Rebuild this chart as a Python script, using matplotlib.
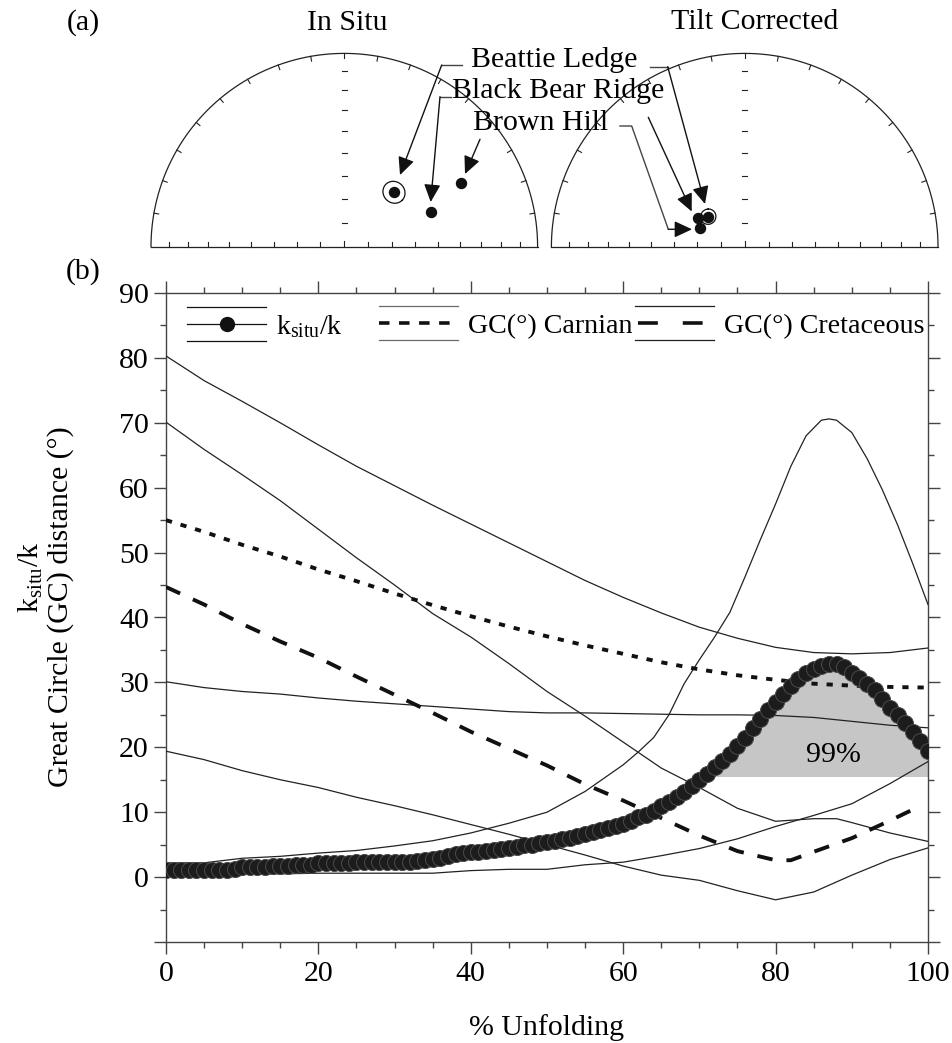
import numpy as np
import matplotlib
matplotlib.use('Agg')
import matplotlib.pyplot as plt
from matplotlib.legend import Legend
from matplotlib.legend_handler import HandlerBase
from matplotlib.lines import Line2D

plt.rcParams['font.family'] = ['Liberation Serif', 'DejaVu Serif']
plt.rcParams['mathtext.fontset'] = 'custom'
plt.rcParams['mathtext.rm'] = 'Liberation Serif'
plt.rcParams['mathtext.it'] = 'Liberation Serif:italic'

# ---------------- data ----------------
sites = ['Beattie Ledge', 'Black Bear Ridge', 'Brown Hill']
insitu_dec = [42.4, 67.9, 61.3]
insitu_inc = [58.7, 50.1, 31.8]
tilt_dec = [309.5, 301.0, 292.4]
tilt_inc = [70.1, 66.8, 69.6]
insitu_a95 = [4.6, None, None]
tilt_a95 = [3.2, None, None]

unfold = list(range(0, 101))
ksitu_k = [1.1, 1.1, 1.1, 1.1, 1.1, 1.1, 1.1, 1.1, 1.1, 1.2,
           1.6, 1.6, 1.6, 1.6, 1.7, 1.7, 1.7, 1.8, 1.8, 1.8,
           2.1, 2.2, 2.2, 2.2, 2.2, 2.3, 2.4, 2.4, 2.4, 2.4,
           2.4, 2.4, 2.4, 2.5, 2.6, 2.8, 3.0, 3.3, 3.5, 3.7,
           3.8, 3.9, 4.0, 4.2, 4.3, 4.5, 4.7, 4.9, 5.0, 5.2,
           5.4, 5.6, 5.8, 6.1, 6.4, 6.6, 6.9, 7.2, 7.5, 7.9,
           8.2, 8.7, 9.2, 9.6, 10.2, 10.9, 11.6, 12.3, 13.1, 14.0,
           14.9, 15.9, 16.9, 17.9, 19.0, 20.2, 21.5, 22.9, 24.3, 25.7,
           27.0, 28.2, 29.4, 30.5, 31.4, 32.1, 32.6, 32.9, 32.8, 32.3,
           31.5, 30.7, 29.8, 28.8, 27.5, 26.0, 24.9, 23.7, 22.3, 20.9, 19.4]
k_threshold_99 = 15.5

ksitu_up_x = [0, 5, 10, 15, 20, 25, 30, 35, 40, 45, 50, 55, 60, 62, 64, 66, 68, 70, 72,
              74, 76, 78, 80, 82, 84, 86, 87, 88, 90, 92, 94, 96, 98, 100]
ksitu_upper = [2.2, 2.2, 2.9, 3.2, 3.7, 4.1, 4.8, 5.6, 6.8, 8.3, 10.0, 13.2, 17.3, 19.3,
               21.5, 25.0, 29.8, 33.5, 37.0, 40.8, 46.3, 52.0, 57.5, 63.3, 68.0, 70.4,
               70.6, 70.4, 68.5, 64.5, 59.7, 54.3, 48.3, 42.0]
pct5 = list(range(0, 101, 5))
ksitu_lower = [0.4, 0.4, 0.5, 0.5, 0.6, 0.6, 0.6, 0.6, 1.0, 1.2, 1.2, 1.9, 2.3, 3.3,
               4.4, 5.9, 7.8, 9.5, 11.3, 14.4, 17.8]

carn_mean = [55.0, 53.2, 51.2, 49.4, 47.4, 45.6, 43.7, 41.9, 40.2, 38.6, 37.1, 35.7,
             34.4, 33.1, 32.0, 31.1, 30.4, 29.8, 29.5, 29.3, 29.2]
carn_upper = [80.3, 76.5, 73.3, 70.0, 66.6, 63.3, 60.3, 57.3, 54.4, 51.5, 48.6, 45.7,
              43.1, 40.7, 38.5, 36.8, 35.4, 34.6, 34.4, 34.6, 35.3]
carn_lower = [30.1, 29.2, 28.6, 28.2, 27.6, 27.1, 26.7, 26.3, 25.9, 25.5, 25.3, 25.3,
              25.2, 25.1, 25.0, 25.0, 24.9, 24.6, 24.0, 23.4, 23.0]

cret_mean_x = [0, 5, 10, 15, 20, 25, 30, 35, 40, 45, 50, 55, 60, 65, 70, 75, 80, 82,
               85, 90, 95, 98]
cret_mean = [44.7, 42.0, 39.0, 36.3, 33.8, 30.9, 28.1, 25.3, 22.4, 19.8, 17.2, 14.3,
             11.8, 9.1, 6.4, 4.0, 2.6, 2.6, 3.9, 6.0, 8.7, 10.4]
cret_up_x = [0, 5, 10, 15, 20, 25, 30, 35, 40, 45, 50, 55, 60, 65, 70, 75, 80, 85, 88,
             90, 95, 100]
cret_upper = [70.1, 65.9, 62.0, 58.0, 53.6, 49.2, 45.0, 40.6, 37.0, 32.9, 28.6, 24.8,
              20.8, 16.8, 13.8, 10.6, 8.6, 9.0, 9.0, 8.4, 6.8, 5.5]
cret_lower = [19.4, 18.1, 16.4, 15.0, 13.8, 12.3, 11.0, 9.6, 8.1, 6.6, 5.0, 3.4, 1.7,
              0.3, -0.5, -2.1, -3.5, -2.3, 0.3, 2.7, 4.5]

legend_labels = [r'$\mathregular{k_{situ}}$/k', 'GC(°) Carnian', 'GC(°) Cretaceous']
xticks = [0, 20, 40, 60, 80, 100]
yticks = [-10, 0, 10, 20, 30, 40, 50, 60, 70, 80, 90]

FS = 21.5
LFS = 20.2
W, H = 953, 1043
fig = plt.figure(figsize=(W / 100, H / 100), dpi=100)

# ---------------- (a) stereonets ----------------
R = 193.3
CX0, CY0 = 344.3, 246.7
TOPH = 262


def P(px, py):
    return ((px - CX0) / R, (CY0 - py) / R)


axa = fig.add_axes([0, 1 - TOPH / H, 1, TOPH / H])
axa.set_xlim(-CX0 / R, (W - CX0) / R)
axa.set_ylim((CY0 - TOPH) / R, CY0 / R)
axa.axis('off')

cx_right = (744.7 - CX0) / R
net_col = '#222222'


def proj(dec, inc):
    p = np.radians(90.0 - np.asarray(inc))
    r = np.sqrt(2) * np.sin(p / 2)
    d = np.radians(np.asarray(dec))
    return r * np.sin(d), r * np.cos(d)


def small_circle(dec, inc, a95, n=120):
    d, i = np.radians(dec), np.radians(inc)
    v = np.array([np.cos(i) * np.sin(d), np.cos(i) * np.cos(d), np.sin(i)])
    tmp = np.array([0, 0, 1.0]) if abs(v[2]) < 0.9 else np.array([1.0, 0, 0])
    u1 = np.cross(v, tmp); u1 /= np.linalg.norm(u1)
    u2 = np.cross(v, u1)
    a = np.radians(a95)
    ph = np.linspace(0, 2 * np.pi, n)
    pts = (np.cos(a) * v[:, None] + np.sin(a) * (np.cos(ph) * u1[:, None] + np.sin(ph) * u2[:, None]))
    incs = np.degrees(np.arcsin(pts[2]))
    decs = np.degrees(np.arctan2(pts[0], pts[1]))
    return proj(decs, incs)


def draw_net(ax, cx):
    t = np.linspace(0, np.pi, 300)
    ax.plot(cx + np.cos(t), np.sin(t), color=net_col, lw=0.9)
    ax.plot([cx - 1, cx + 1], [0, 0], color=net_col, lw=0.9)
    for az in range(-80, 90, 10):
        a = np.radians(az)
        ax.plot([cx + 0.975 * np.sin(a), cx + np.sin(a)],
                [0.975 * np.cos(a), np.cos(a)], color=net_col, lw=0.8)
    for inc in range(10, 90, 10):
        r = np.sqrt(2) * np.sin(np.radians(90 - inc) / 2)
        ax.plot([cx - 0.012, cx + 0.012], [r, r], color=net_col, lw=0.8)
        for s in (-1, 1):
            ax.plot([cx + s * r, cx + s * r], [0, 0.022], color=net_col, lw=0.8)
    ax.plot([cx, cx], [0, 0.03], color=net_col, lw=0.8)


for cx, decs, incs, a95s in ((0.0, insitu_dec, insitu_inc, insitu_a95),
                             (cx_right, tilt_dec, tilt_inc, tilt_a95)):
    draw_net(axa, cx)
    x, y = proj(decs, incs)
    axa.plot(cx + x, y, 'o', ms=7.2, color='#111111', ls='none')
    for dd, ii, aa in zip(decs, incs, a95s):
        if aa:
            sx, sy = small_circle(dd, ii, aa)
            axa.plot(cx + sx, sy, color='#111111', lw=0.9)

axa.text(*P(347.5, 30), 'In Situ', fontsize=FS, ha='center', va='baseline')
axa.text(*P(755, 29), 'Tilt Corrected', fontsize=FS, ha='center', va='baseline')
axa.text(*P(471, 66.7), sites[0], fontsize=FS, ha='left', va='baseline')
axa.text(*P(451.7, 98.3), sites[1], fontsize=FS, ha='left', va='baseline')
axa.text(*P(473.3, 130), sites[2], fontsize=FS, ha='left', va='baseline')

leaders = [
    [(462, 65), (441.7, 65), (400, 175)],
    [(451, 96.7), (440, 96.7), (430.7, 202)],
    [(480, 139.3), (465, 174)],
    [(650, 66.7), (667.7, 66.7), (705, 204)],
    [(648.3, 117.3), (691.7, 211.5)],
    [(620, 126), (631.7, 126), (668.3, 229.3), (692, 229.3)],
]
for path in leaders:
    pts = [P(*p) for p in path]
    if len(pts) > 2:
        axa.plot([p[0] for p in pts[:-1]], [p[1] for p in pts[:-1]], color='#444444', lw=1.0)
    axa.annotate('', xy=pts[-1], xytext=pts[-2],
                 arrowprops=dict(arrowstyle='-|>,head_length=0.9,head_width=0.42',
                                 mutation_scale=12, color='#111111', lw=1.0,
                                 shrinkA=0, shrinkB=0))

fig.text(83 / W, 1 - 30 / H, '(a)', fontsize=FS, ha='center', va='baseline')
fig.text(83 / W, 1 - 279 / H, '(b)', fontsize=FS, ha='center', va='baseline')

# ---------------- (b) unfolding ----------------
ax = fig.add_axes([166 / W, 1 - 942 / H, 762 / W, 649 / H])
ax.set_xlim(0, 100)
ax.set_ylim(-10, 90)

kx = np.array(unfold, dtype=float)
ky = np.array(ksitu_k)
ax.fill_between(kx, k_threshold_99, ky, where=ky >= k_threshold_99, interpolate=True,
                color='#c6c6c6', lw=0, zorder=1)
ax.text(87.6, 18.8, '99%', fontsize=FS, ha='center', va='center', zorder=2)

thin = dict(color='#222222', lw=0.9, zorder=3)
ax.plot(ksitu_up_x, ksitu_upper, **thin)
ax.plot(pct5, ksitu_lower, **thin)
ax.plot(pct5, carn_upper, **thin)
ax.plot(pct5, carn_lower, **thin)
ax.plot(cret_up_x, cret_upper, **thin)
ax.plot(pct5, cret_lower, **thin)

l_carn, = ax.plot(pct5, carn_mean, color='#111111', lw=2.8, ls=(0, (1.6, 2.3)),
                  dash_capstyle='butt', zorder=4)
l_cret, = ax.plot(cret_mean_x, cret_mean, color='#111111', lw=2.8, ls=(0, (4.0, 3.6)),
                  dash_capstyle='butt', zorder=4)
l_k, = ax.plot(unfold, ksitu_k, color='#1c1c1c', lw=1.5, marker='o', ms=11.5,
               mfc='#1c1c1c', mec='#4a4a4a', mew=0.7, zorder=5)


class BandHandler(HandlerBase):
    def __init__(self, mid_kw, band_color, marker_kw=None):
        super().__init__()
        self.mid_kw = mid_kw
        self.band_color = band_color
        self.marker_kw = marker_kw

    def create_artists(self, legend, orig_handle, xdescent, ydescent, width, height,
                       fontsize, trans):
        yc = height / 2 - ydescent
        off = 12.2
        x0, x1 = -xdescent, -xdescent + width
        arts = []
        for dy in (off, -off):
            ln = Line2D([x0, x1], [yc + dy, yc + dy], color=self.band_color, lw=0.9)
            ln.set_transform(trans)
            arts.append(ln)
        m = Line2D([x0, x1], [yc, yc], **self.mid_kw)
        m.set_transform(trans)
        arts.append(m)
        if self.marker_kw:
            mk = Line2D([(x0 + x1) / 2], [yc], ls='none', **self.marker_kw)
            mk.set_transform(trans)
            arts.append(mk)
        return arts


hmap = {
    l_k: BandHandler(dict(color='#111111', lw=0.9), '#111111',
                     dict(marker='o', ms=10, mfc='#111111', mec='#111111')),
    l_carn: BandHandler(dict(color='#111111', lw=2.6, ls=(0, (2.9, 2.65)),
                             dash_capstyle='butt'), '#6a6a6a'),
    l_cret: BandHandler(dict(color='#111111', lw=2.6, ls=(11.57, (5.5, 6.9)),
                             dash_capstyle='butt'), '#222222'),
}
handle_left_px = [187, 379, 635]
for h, lab, hx in zip([l_k, l_carn, l_cret], legend_labels, handle_left_px):
    lg = Legend(ax, [h], [lab], handler_map=hmap, loc='upper left',
                bbox_to_anchor=((hx - 166) / 762, 0.969), frameon=False, fontsize=LFS,
                borderpad=0, borderaxespad=0, handlelength=56.9 / LFS,
                handletextpad=7.2 / LFS)
    ax.add_artist(lg)

ax.set_xticks(xticks)
ax.set_xticks(range(0, 101, 5), minor=True)
ax.set_yticks(yticks)
ax.set_yticklabels([''] + [str(v) for v in yticks[1:]])
ax.set_yticks(range(-10, 91, 5), minor=True)
ax.tick_params(which='both', direction='out', top=True, right=True, color='#444444',
               width=1.0, labelsize=FS)
ax.tick_params(which='major', length=8.4, pad=4)
ax.tick_params(axis='x', which='major', pad=5)
ax.tick_params(which='minor', length=4.6)
for sp in ax.spines.values():
    sp.set_color('#444444')
    sp.set_linewidth(1.0)

fig.text(31 / W, 1 - 577 / H, r'$\mathregular{k_{situ}}$/k', fontsize=FS, rotation=90,
         ha='center', va='center')
fig.text(61 / W, 1 - 607 / H, 'Great Circle (GC) distance (°)', fontsize=FS, rotation=90,
         ha='center', va='center')
fig.text(547 / W, 1 - 1035 / H, '% Unfolding', fontsize=FS, ha='center', va='baseline')

fig.savefig('out.png', dpi=100)
